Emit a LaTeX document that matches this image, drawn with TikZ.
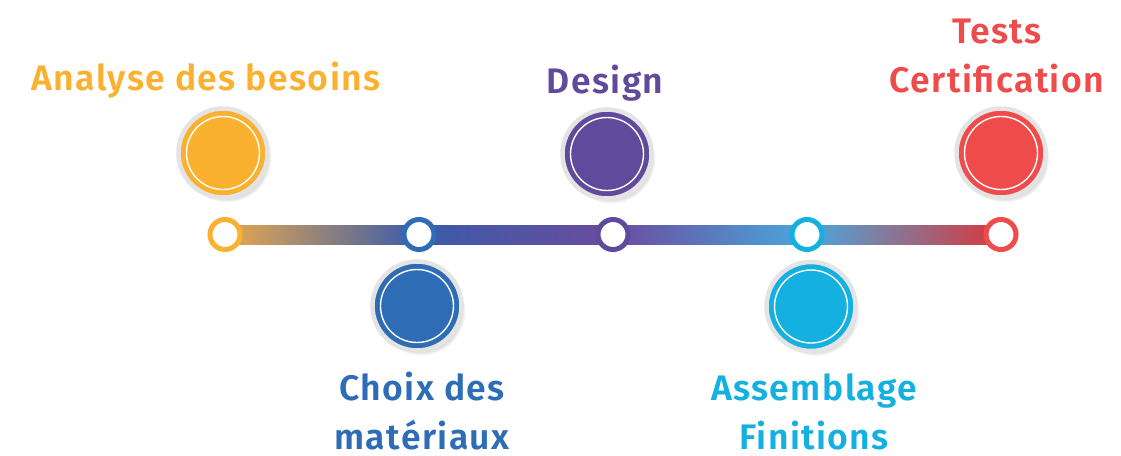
\documentclass[tikz,border=0pt]{standalone}
\usepackage{fontspec}
\setmainfont{Fira Sans}[BoldFont = {Fira Sans SemiBold}, LetterSpace = 4]
\usetikzlibrary{positioning}
\usetikzlibrary{shadows}
\usetikzlibrary{backgrounds}
\usetikzlibrary{calc}

\definecolor{cOrange}{HTML}{FBB130}
\definecolor{cBlue}{HTML}{2E6DB6}
\definecolor{cPurple}{HTML}{5F4A9C}
\definecolor{cCyan}{HTML}{14B0E0}
\definecolor{cRed}{HTML}{EF4B4B}
\definecolor{bOrange}{HTML}{E6A850}
\definecolor{bBlue}{HTML}{3B5BA9}
\definecolor{bPurple}{HTML}{6B4C9F}
\definecolor{bCyan}{HTML}{4AA7DD}
\definecolor{bRed}{HTML}{D8383A}
\definecolor{ringgray}{HTML}{E4E4E4}

\begin{document}
\begin{tikzpicture}[
            x = 1pt, y = -1pt, % pixel grid, y down
            node distance = 194pt, % distance between milestones
            font = \bfseries\fontsize{35.5}{49}\selectfont
        ]

        \tikzstyle{milestone}=[
            circle,
            fill = white,
            line width = 5pt,
            minimum size = 30pt,
            inner sep = 0pt
        ]
        \tikzstyle{bigdisc}=[
            circle,
            draw = ringgray,
            line width = 4.5pt,
            minimum size = 89pt,
            inner sep = 0pt,
            circular drop shadow = {shadow xshift = 4pt, shadow yshift = -5pt, shadow scale = 1, opacity = 0.4},
            path picture = {\draw[white, line width = 1.4pt] (path picture bounding box.center) circle (36.5);}
        ]
        \tikzstyle{phasetext}=[
            anchor = base,
            align = center,
            inner sep = 0pt
        ]

        \useasboundingbox (0,0) rectangle (1121,455);

% timeline
        \node[milestone, draw = cOrange] (P1) at (225,234.5) {};
        \node[milestone, draw = cBlue] (P2) [right of = P1] {};
        \node[milestone, draw = cPurple] (P3) [right of = P2] {};
        \node[milestone, draw = cCyan] (P4) [right of = P3] {};
        \node[milestone, draw = cRed] (P5) [right of = P4] {};

    \begin{scope}[on background layer]
        \fill[white] (0,0) rectangle (1121,455);
        \shade[left color = bOrange, right color = bBlue] ($(P1)+(0,-9.5)$) rectangle ($(P2)+(0,9.5)$);
        \shade[left color = bBlue, right color = bPurple] ($(P2)+(0,-9.5)$) rectangle ($(P3)+(0,9.5)$);
        \shade[left color = bPurple, right color = bCyan] ($(P3)+(0,-9.5)$) rectangle ($(P4)+(0,9.5)$);
        \shade[left color = bCyan, right color = bRed] ($(P4)+(0,-9.5)$) rectangle ($(P5)+(0,9.5)$);
    \end{scope}

% big discs
        \node[bigdisc, fill = cOrange, above of = P1, node distance = 81.5pt, xshift = -2pt] (C1) {};
        \node[bigdisc, fill = cBlue, below of = P2, node distance = 71.5pt, xshift = -2pt] (C2) {};
        \node[bigdisc, fill = cPurple, above of = P3, node distance = 80.5pt, xshift = -6pt] (C3) {};
        \node[bigdisc, fill = cCyan, below of = P4, node distance = 72pt, xshift = 4pt] (C4) {};
        \node[bigdisc, fill = cRed, above of = P5, node distance = 81.5pt] (C5) {};

% labels (anchored on the last baseline)
        \node[phasetext, text = cOrange] (T1) at (206,90) {Analyse des besoins};
        \node[phasetext, text = cBlue] (T2) at (422,449) {Choix des\\matériaux};
        \node[phasetext, text = cPurple] (T3) at (605,93) {Design};
        \node[phasetext, text = cCyan] (T4) at (814,449) {Assemblage\\Finitions};
        \node[phasetext, text = cRed] (T5) at (997,92) {Tests\\Certification};

  \end{tikzpicture}
\end{document}
